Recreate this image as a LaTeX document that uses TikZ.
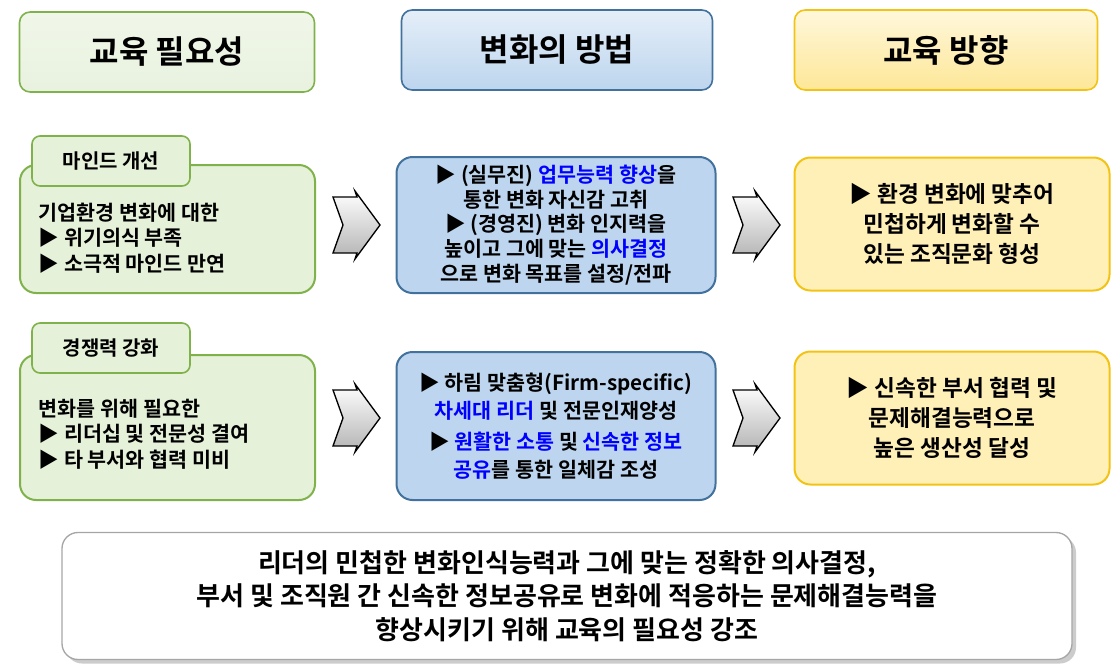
\documentclass[tikz,border=0pt]{standalone}
\usepackage{fontspec}
\setmainfont{Noto Sans CJK KR}[BoldFont={* Bold}]
\usetikzlibrary{shadows}
\definecolor{gfill}{HTML}{E6F1DA}
\definecolor{gline}{HTML}{7FB24A}
\definecolor{bfill}{HTML}{BDD5EE}
\definecolor{bline}{HTML}{41719C}
\definecolor{yfill}{HTML}{FFF0B8}
\definecolor{yline}{HTML}{F2C314}
\definecolor{kblue}{HTML}{0000FF}
\tikzset{
  hdr/.style={rounded corners=8pt, line width=1.2pt, font=\bfseries\fontsize{24}{28}\selectfont},
  gbox/.style={rounded corners=12pt, draw=gline, line width=1.5pt, fill=gfill},
  bbox/.style={rounded corners=12pt, draw=bline, line width=1.5pt, fill=bfill},
  ybox/.style={rounded corners=12pt, draw=yline, line width=1.5pt, fill=yfill},
  tagbox/.style={rounded corners=6pt, draw=gline, line width=1.2pt, fill=gfill, font=\bfseries\fontsize{15}{17}\selectfont},
  txt/.style={font=\bfseries\fontsize{15.5}{19}\selectfont, align=left},
  arr/.style={draw=black, line width=1pt, top color=white, bottom color=gray!60},
}
\newcommand{\B}[1]{\textcolor{kblue}{#1}}
\begin{document}
\begin{tikzpicture}[x=0.75pt,y=-0.75pt]
\useasboundingbox (0,0) rectangle (1119,669);
% headers
\node[hdr, draw=gline, top color=gfill!60!white, bottom color=gfill!70!gline!40, minimum width=295*0.75pt, minimum height=80*0.75pt] (h1) at (167,52) {교육 필요성};
\node[hdr, draw=bline, top color=bfill!40!white, bottom color=bfill, minimum width=311*0.75pt, minimum height=80*0.75pt] (h2) at (557,50) {변화의 방법};
\node[hdr, draw=yline, top color=yfill!50!white, bottom color=yfill!80!yline, minimum width=303*0.75pt, minimum height=80*0.75pt] (h3) at (946,50) {교육 방향};
% row 1
\draw[gbox] (20,165) rectangle (315,293);
\node[txt, anchor=west] (l1) at (34,238) {기업환경 변화에 대한\\ ▶ 위기의식 부족\\ ▶ 소극적 마인드 만연};
\node[tagbox, minimum width=158*0.75pt, minimum height=50*0.75pt] (t1) at (111,161) {마인드 개선};
\node[bbox, minimum width=319*0.75pt, minimum height=136*0.75pt] (m1) at (556,225) {};
\node[txt, align=center, font=\bfseries\fontsize{15.5}{18.5}\selectfont] (m1t) at (556,225) {▶ (실무진) \B{업무능력 향상}을\\ 통한 변화 자신감 고취\\ ▶ (경영진) 변화 인지력을\\ 높이고 그에 맞는 \B{의사결정}\\ 으로 변화 목표를 설정/전파};
\node[ybox, minimum width=315*0.75pt, minimum height=133*0.75pt, txt, align=center, font=\bfseries\fontsize{17}{22.5}\selectfont] (r1) at (952,224) {▶ 환경 변화에 맞추어\\ 민첩하게 변화할 수\\ 있는 조직문화 형성};
% row 2
\draw[gbox] (20,355) rectangle (315,500);
\node[txt, anchor=west] (l2) at (34,434) {변화를 위해 필요한\\ ▶ 리더십 및 전문성 결여\\ ▶ 타 부서와 협력 미비};
\node[tagbox, minimum width=158*0.75pt, minimum height=50*0.75pt] (t2) at (111,348) {경쟁력 강화};
\node[bbox, minimum width=319*0.75pt, minimum height=148*0.75pt] (m2) at (556,426) {};
\node[txt, align=center, font=\bfseries\fontsize{15.5}{21}\selectfont] (m2t) at (556,426) {▶ 하림 맞춤형(Firm-specific)\\ \B{차세대 리더} 및 전문인재양성\\[2pt] ▶ \B{원활한 소통} 및 \B{신속한 정보}\\ \B{공유}를 통한 일체감 조성};
\node[ybox, minimum width=315*0.75pt, minimum height=133*0.75pt, txt, align=center, font=\bfseries\fontsize{17}{22.5}\selectfont] (r2) at (952,418) {▶ 신속한 부서 협력 및\\ 문제해결능력으로\\ 높은 생산성 달성};
% arrows
\foreach \n/\x/\y in {a1/333/225, a2/733/225, a3/333/418, a4/733/418}{
  \draw[arr] (\x,\y-28) -- (\x+24,\y-28) -- (\x+22,\y-34) -- (\x+47,\y) -- (\x+22,\y+34) -- (\x+24,\y+28) -- (\x,\y+28) -- (\x+10,\y) -- cycle;
  \coordinate (\n) at (\x+23,\y);
}
% bottom
\node[rounded corners=12pt, draw=gray!70, line width=1pt, fill=white, drop shadow={opacity=0.4, shadow xshift=3pt, shadow yshift=-3pt}, minimum width=1010*0.75pt, minimum height=127*0.75pt, align=center, font=\bfseries\fontsize{19.5}{25}\selectfont] (b) at (567,596) {리더의 민첩한 변화인식능력과 그에 맞는 정확한 의사결정,\\ 부서 및 조직원 간 신속한 정보공유로 변화에 적응하는 문제해결능력을\\ 향상시키기 위해 교육의 필요성 강조};
\end{tikzpicture}
\end{document}
